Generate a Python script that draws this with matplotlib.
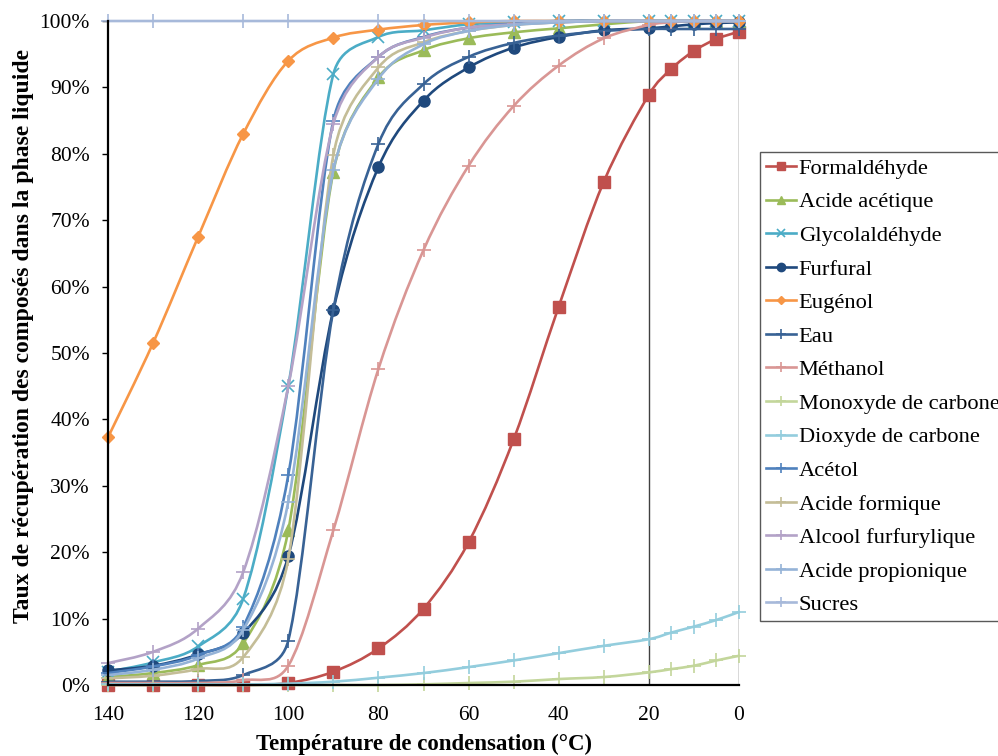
import numpy as np
import matplotlib
matplotlib.use('Agg')
import matplotlib.pyplot as plt
from matplotlib.path import Path
from matplotlib.patches import PathPatch
from matplotlib.lines import Line2D

plt.rcParams['font.family'] = ['Liberation Serif', 'DejaVu Serif']

temp = [140, 130, 120, 110, 100, 90, 80, 70, 60, 50, 40, 30, 20, 15, 10, 5, 0]
tempSucres = [140, 130, 110, 100, 80, 70, 60, 50, 40, 30, 20, 15, 10, 5, 0]

formaldehyde = [0, 0, 0, 0, 0.3, 2, 5.5, 11.5, 21.5, 37, 57, 75.8, 88.9, 92.8, 95.5, 97.3, 98.4]
acideAcetique = [1.2, 1.8, 3, 6.3, 23.3, 77.3, 91.5, 95.6, 97.4, 98.3, 98.9, 99.5, 100, 100, 100, 100, 100]
glycolaldehyde = [2, 3.4, 5.8, 13, 45, 92, 97.6, 98.6, 99.5, 99.8, 100, 100, 100, 100, 100, 100, 100]
furfural = [2.2, 2.9, 4.6, 7.8, 19.4, 56.5, 78, 88, 93, 96, 97.6, 98.6, 98.9, 99.2, 99.5, 99.7, 99.8]
eugenol = [37.3, 51.5, 67.5, 83, 94, 97.5, 98.7, 99.4, 99.8, 100, 100, 100, 100, 100, 100, 100, 100]
eau = [0.5, 0.5, 0.6, 1.5, 6.7, 56.5, 81.5, 90.5, 94.6, 96.7, 97.8, 98.5, 98.8, 98.8, 98.8, 98.8, 98.8]
methanol = [0.3, 0.3, 0.3, 0.7, 2.9, 23.3, 47.6, 65.5, 78.2, 87.2, 93.3, 97.4, 99.4, 99.8, 100, 100, 100]
monoxyde = [0, 0, 0, 0, 0, 0, 0, 0.1, 0.3, 0.5, 0.9, 1.2, 1.9, 2.4, 2.9, 3.7, 4.4]
dioxyde = [0.1, 0.1, 0.1, 0.1, 0.2, 0.5, 1.1, 1.8, 2.7, 3.7, 4.8, 5.9, 6.9, 7.9, 8.8, 9.8, 11]
acetol = [1.8, 2.8, 4.5, 8.8, 31.6, 85, 94.6, 97.6, 99, 99.6, 100, 100, 100, 100, 100, 100, 100]
acideFormique = [1, 1.4, 2.4, 4.2, 19, 79.8, 93, 96.8, 98.5, 99.4, 99.8, 100, 100, 100, 100, 100, 100]
alcoolFurfurylique = [3.3, 5, 8.5, 17, 45, 84.5, 94.6, 97.5, 99, 99.5, 99.8, 100, 100, 100, 100, 100, 100]
acidePropionique = [1.5, 2.3, 4, 8.3, 27.6, 77.5, 91.3, 96.5, 98.5, 99.4, 99.8, 100, 100, 100, 100, 100, 100]
sucres = [100] * len(tempSucres)

series = [
    ('Formaldéhyde', temp, formaldehyde, '#C0504D', 's', 8),
    ('Acide acétique', temp, acideAcetique, '#9BBB59', '^', 8),
    ('Glycolaldéhyde', temp, glycolaldehyde, '#4BACC6', 'x', 8),
    ('Furfural', temp, furfural, '#1F497D', 'o', 8),
    ('Eugénol', temp, eugenol, '#F79646', 'D', 6),
    ('Eau', temp, eau, '#386295', '+', 10),
    ('Méthanol', temp, methanol, '#D99694', '+', 10),
    ('Monoxyde de carbone', temp, monoxyde, '#C3D69B', '+', 10),
    ('Dioxyde de carbone', temp, dioxyde, '#93CDDD', '+', 10),
    ('Acétol', temp, acetol, '#4F81BD', '+', 10),
    ('Acide formique', temp, acideFormique, '#C4BD97', '+', 10),
    ('Alcool furfurylique', temp, alcoolFurfurylique, '#B3A2C7', '+', 10),
    ('Acide propionique', temp, acidePropionique, '#95B3D7', '+', 10),
    ('Sucres', tempSucres, sucres, '#A7B9DA', '+', 10),
]


def smooth_path(ax, x, y):
    # Excel style smoothed line, control points worked out in screen space
    pts = ax.transData.transform(np.column_stack([x, y]))
    n = len(pts)
    verts = [pts[0]]
    codes = [Path.MOVETO]
    for i in range(n - 1):
        p0 = pts[max(i - 1, 0)]
        p1 = pts[i]
        p2 = pts[i + 1]
        p3 = pts[min(i + 2, n - 1)]
        d12 = np.hypot(*(p2 - p1))
        d02 = np.hypot(*(p2 - p0))
        d13 = np.hypot(*(p3 - p1))
        f0 = 1 / 6 if d02 / 6 < d12 / 2 else d12 / d02 / 2
        f1 = 1 / 6 if d13 / 6 < d12 / 2 else d12 / d13 / 2
        verts += [p1 + f0 * (p2 - p0), p2 - f1 * (p3 - p1), p2]
        codes += [Path.CURVE4] * 3
    verts = ax.transData.inverted().transform(np.array(verts))
    return Path(verts, codes)


fig = plt.figure(figsize=(9.98, 7.56), dpi=100)
ax = fig.add_axes([0.1082, 0.0939, 0.6323, 0.8783])
ax.set_xlim(140, 0)
ax.set_ylim(0, 100)

handles = []
for k, (name, xs, ys, col, mk, ms) in enumerate(series):
    z = 3 + k * 0.1
    ax.add_patch(PathPatch(smooth_path(ax, xs, ys), fill=False, edgecolor=col, lw=1.9, zorder=z,
                           capstyle='round', joinstyle='round', clip_on=False))
    mew = 1.2 if mk in ('+', 'x') else 1
    ax.plot(xs, ys, linestyle='none', marker=mk, markersize=ms, color=col, markeredgecolor=col,
            markeredgewidth=mew, zorder=z + 0.05, clip_on=False)
    handles.append(Line2D([], [], color=col, lw=1.9, marker=mk, markersize=ms * 0.75,
                          markeredgewidth=mew, label=name))

ax.axvline(20, color='#404040', lw=1, zorder=2)
ax.axvline(0, color='#404040', lw=1, zorder=2)

ax.set_xticks([140, 120, 100, 80, 60, 40, 20, 0])
ax.set_yticks(range(0, 101, 10))
ax.set_yticklabels([f'{v}%' for v in range(0, 101, 10)])
ax.tick_params(axis='x', length=0, pad=15, labelsize=15.5)
ax.tick_params(axis='y', length=4, width=1, pad=9, labelsize=15.5, direction='out')

for s in ['top', 'right']:
    ax.spines[s].set_visible(False)
ax.spines['left'].set_linewidth(1.6)
ax.spines['bottom'].set_linewidth(1.6)
ax.spines['left'].set_zorder(5)
ax.spines['bottom'].set_zorder(5)

ax.set_xlabel('Température de condensation (°C)', fontsize=16.5, fontweight='bold')
ax.xaxis.set_label_coords(0.5, -0.073)
ax.set_ylabel('Taux de récupération des composés dans la phase liquide', fontsize=17,
              fontweight='bold')
ax.yaxis.set_label_coords(-0.117, 0.525)

leg = fig.legend(handles=handles, loc='upper left', bbox_to_anchor=(760 / 998, 1 - 152 / 756),
                 fontsize=16.2, frameon=True, fancybox=False, handlelength=1.35, handletextpad=0.1,
                 labelspacing=0.57, borderpad=0.27, borderaxespad=0)
leg.get_frame().set_edgecolor('#303030')
leg.get_frame().set_linewidth(1)

plt.savefig('out.png', dpi=100)
